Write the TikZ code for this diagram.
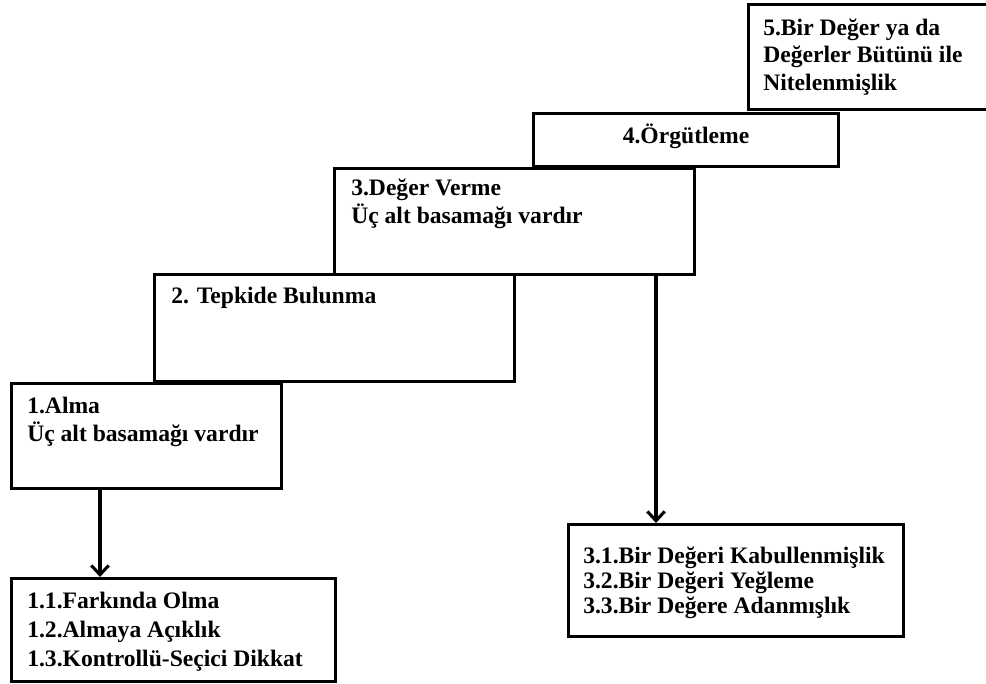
\documentclass[tikz,border=0pt]{standalone}
\usepackage{fontspec}
\setmainfont{Liberation Serif}
\usetikzlibrary{arrows.meta,positioning,calc}

\begin{document}
\begin{tikzpicture}[x=0.75pt, y=-0.75pt,
  box/.style={draw, line width=2.3pt, inner sep=0pt, anchor=north west},
  lbl/.style={anchor=base west, align=left, inner sep=0pt, font=\bfseries\fontsize{17.7}{20.6}\selectfont},
  arr/.style={-{Straight Barb[length=7pt,width=13pt]}, line width=2.3pt}]
  \clip (0,0) rectangle (986,683);
  % the five steps, climbing to the right
  \node[box, minimum width=189.75pt, minimum height=78.75pt] (b5) at (747,3) {};
  \node[box, minimum width=228.75pt, minimum height=39.75pt] (b4) at (532,112) {};
  \node[box, minimum width=270pt, minimum height=79.5pt] (b3) at (333,167) {};
  \node[box, minimum width=270pt, minimum height=80.25pt] (b2) at (153,273) {};
  \node[box, minimum width=202.5pt, minimum height=78.75pt] (b1) at (10,382) {};
  % sub-steps
  \node[box, minimum width=243pt, minimum height=77.25pt] (b11) at (10,577) {};
  \node[box, minimum width=251.25pt, minimum height=84pt] (b31) at (567,523) {};
  % texts (base = last line)
  \node[lbl] (t5) at ($(b5.north west)+(16,87)$) {5.Bir Değer ya da\\Değerler Bütünü ile\\Nitelenmişlik};
  \node[lbl, anchor=base] (t4) at ($(b4.north)+(0,31)$) {4.Örgütleme};
  \node[lbl] (t3) at ($(b3.north west)+(18,56)$) {3.Değer Verme\\Üç alt basamağı vardır};
  \node[lbl] (t2) at ($(b2.north west)+(18,30)$) {2. Tepkide Bulunma};
  \node[lbl] (t1) at ($(b1.north west)+(17,59)$) {1.Alma\\Üç alt basamağı vardır};
  \node[lbl, font=\bfseries\fontsize{17.7}{21.4}\selectfont] (t11) at ($(b11.north west)+(17,89)$) {1.1.Farkında Olma\\1.2.Almaya Açıklık\\1.3.Kontrollü-Seçici Dikkat};
  \node[lbl, font=\bfseries\fontsize{17.7}{18.4}\selectfont] (t31) at ($(b31.north west)+(16,90)$) {3.1.Bir Değeri Kabullenmişlik\\3.2.Bir Değeri Yeğleme\\3.3.Bir Değere Adanmışlık};
  \draw[arr] ($(b1.south west)+(90,0)$) -- ($(b11.north west)+(90,0)$);
  \draw[arr] ($(b3.south west)+(323,0)$) -- ($(b31.north west)+(89,0)$);
\end{tikzpicture}
\end{document}
